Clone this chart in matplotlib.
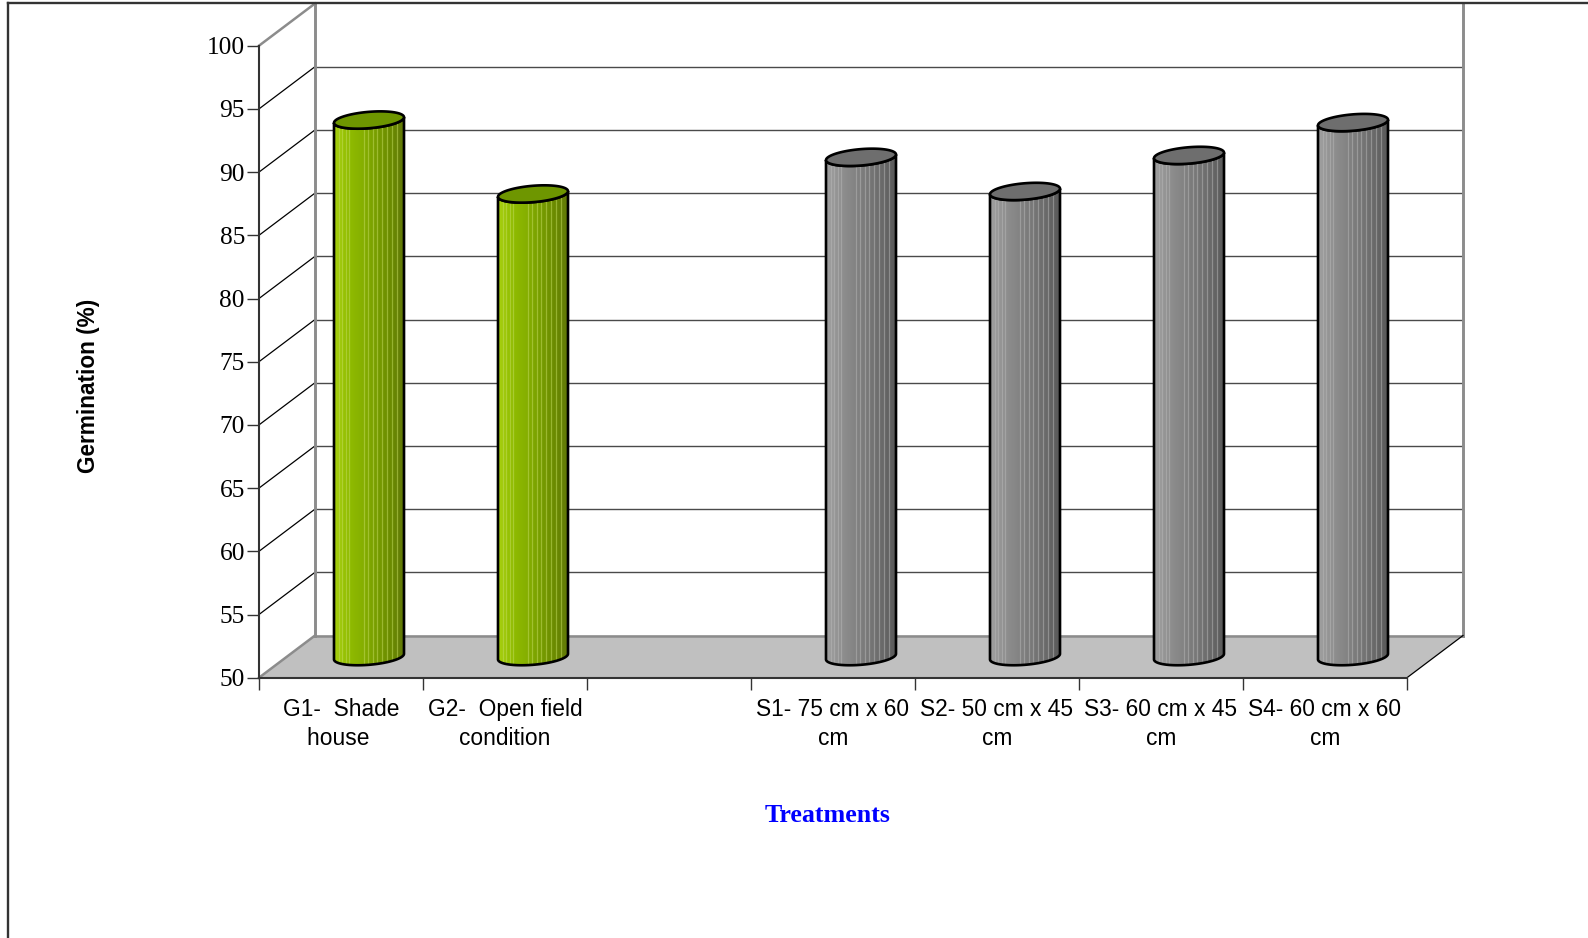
import numpy as np
import matplotlib
matplotlib.use('Agg')
import matplotlib.pyplot as plt
from matplotlib.patches import Polygon, PathPatch
from matplotlib.path import Path
from matplotlib.colors import LinearSegmentedColormap

slots = [0, 1, 3, 4, 5, 6]
values = [92.45, 86.6, 89.5, 86.8, 89.65, 92.25]
bar_kinds = ['green', 'green', 'gray', 'gray', 'gray', 'gray']
labels = ['G1-  Shade\nhouse ', 'G2-  Open field\ncondition', '',
          'S1- 75 cm x 60\ncm', 'S2- 50 cm x 45\ncm',
          'S3- 60 cm x 45\ncm', 'S4- 60 cm x 60\ncm']
y_ticks = list(range(50, 101, 5))

W, H = 1588, 938
LEFT, RIGHT, BOTTOM, TOP = 259, 1407, 677.7, 45.7
PX_X = (RIGHT - LEFT) / 7.0
PX_Y = (BOTTOM - TOP) / 50.0
# oblique depth of the box, in data units
DX = 56 / PX_X
DY = 42.2 / PX_Y
# half width of a cylinder and the shape of its end caps
HALF_W = 35 / PX_X
TILT = 2.8 / PX_Y
CAP = 8.2 / PX_Y

side_colors = {
    'green': ['#a8d010', '#90bc00', '#86b000', '#789e00', '#6c8c00', '#627a08'],
    'gray': ['#a0a0a0', '#909090', '#848484', '#787878', '#6a6a6a', '#5a5a5a'],
}
streak_colors = {'green': '#c4dc60', 'gray': '#b8b8b8'}
top_colors = {'green': '#6e9600', 'gray': '#6e6e6e'}
streak_pos = [0.07, 0.12, 0.17, 0.22, 0.43, 0.49, 0.56, 0.62, 0.68, 0.76, 0.83, 0.90]


def cap_points(cx, cy, t):
    return cx + HALF_W * np.cos(t), cy + TILT * np.cos(t) + CAP * np.sin(t)


def draw_cylinder(ax, slot, value, kind):
    cx = slot + 0.5 + DX / 2
    low = 50 + DY / 2
    high = value + DY / 2

    # side wall: left edge down, front arc, right edge up, front of top cap
    t_low = np.linspace(np.pi, 2 * np.pi, 60)
    t_high = np.linspace(2 * np.pi, np.pi, 60)
    xb, yb = cap_points(cx, low, t_low)
    xt, yt = cap_points(cx, high, t_high)
    verts = np.column_stack([np.r_[xb, xt], np.r_[yb, yt]])
    outline = Path(np.vstack([verts, verts[0]]), closed=True)
    patch = PathPatch(outline, fc='none', ec='black', lw=1.9, zorder=5, clip_on=False)

    cmap = LinearSegmentedColormap.from_list('side', side_colors[kind])
    shade = cmap(np.linspace(0, 1, 70))[np.newaxis, :, :]
    im = ax.imshow(shade, extent=[cx - HALF_W, cx + HALF_W, 45, value + 8],
                   aspect='auto', interpolation='nearest', zorder=4)

    ax.add_patch(patch)
    im.set_clip_path(patch)

    for s in streak_pos:
        line, = ax.plot([cx - HALF_W + s * 2 * HALF_W] * 2, [45, value + 8],
                        color=streak_colors[kind], lw=0.9, alpha=0.5, zorder=4.5)
        line.set_clip_path(patch)

    t = np.linspace(0, 2 * np.pi, 120)
    xc, yc = cap_points(cx, high, t)
    ax.add_patch(Polygon(np.column_stack([xc, yc]), closed=True, fc=top_colors[kind],
                         ec='black', lw=1.9, zorder=6, clip_on=False))


def draw_box(ax):
    for v in y_ticks[1:-1]:
        ax.plot([DX, 7 + DX], [v + DY, v + DY], color='#4a4a4a', lw=1.0, zorder=1, clip_on=False)
        ax.plot([0, DX], [v, v + DY], color='black', lw=0.9, zorder=1, clip_on=False)
    floor = [(0, 50), (DX, 50 + DY), (7 + DX, 50 + DY), (7, 50)]
    ax.add_patch(Polygon(floor, closed=True, fc='#c0c0c0', ec='none', zorder=2, clip_on=False))
    ax.plot([DX, 7 + DX], [50 + DY, 50 + DY], color='#8c8c8c', lw=1.8, zorder=3, clip_on=False)
    ax.plot([DX, DX], [50 + DY, 100 + DY], color='#8c8c8c', lw=2.1, zorder=3, clip_on=False)
    ax.plot([7 + DX, 7 + DX], [50 + DY, 100 + DY], color='#8c8c8c', lw=2.1, zorder=3, clip_on=False)
    ax.plot([0, DX], [50, 50 + DY], color='#8c8c8c', lw=1.8, zorder=3, clip_on=False)
    ax.plot([0, DX], [100, 100 + DY], color='#8c8c8c', lw=1.8, zorder=3, clip_on=False)
    ax.plot([7, 7 + DX], [50, 50 + DY], color='black', lw=0.9, zorder=3, clip_on=False)


plt.rcParams['font.family'] = 'Liberation Sans'
fig = plt.figure(figsize=(W / 100, H / 100), dpi=100)

# page frame around the chart
frame_x = 8 / W
frame_y = 1 - 3 / H
fig.add_artist(plt.Line2D([frame_x, 1], [frame_y, frame_y], color='#333333', lw=1.7))
fig.add_artist(plt.Line2D([frame_x, frame_x], [0, frame_y], color='#333333', lw=1.7))

ax = fig.add_axes([LEFT / W, 1 - BOTTOM / H, (RIGHT - LEFT) / W, (BOTTOM - TOP) / H])
ax.patch.set_visible(False)

draw_box(ax)
for slot, value, kind in zip(slots, values, bar_kinds):
    draw_cylinder(ax, slot, value, kind)

ax.set_xlim(0, 7)
ax.set_ylim(50, 100)
for side in ['top', 'right']:
    ax.spines[side].set_visible(False)
for side in ['left', 'bottom']:
    ax.spines[side].set_color('#333333')
    ax.spines[side].set_linewidth(1.5)
    ax.spines[side].set_zorder(7)

ax.set_yticks(y_ticks)
ax.set_yticklabels([str(v) for v in y_ticks], fontfamily='Liberation Serif', fontsize=18.3)
ax.tick_params(axis='y', length=8.6, width=1.0, color='#333333', pad=1.5)

ax.set_xticks(range(8))
ax.set_xticklabels([])
ax.set_xticks(np.arange(7) + 0.5, minor=True)
ax.set_xticklabels(labels, minor=True, fontsize=16.4, linespacing=1.33)
ax.tick_params(axis='x', which='major', length=8.6, width=1.0, color='#333333')
ax.tick_params(axis='x', which='minor', length=0, pad=14.5)

fig.text(88 / W, 1 - 386 / H, 'Germination (%)', rotation=90, ha='center', va='center',
         fontsize=16.3, fontweight='bold')
fig.text(828 / W, 1 - 815.5 / H, 'Treatments', ha='center', va='center', color='#0000ff',
         fontfamily='Liberation Serif', fontsize=18.7, fontweight='bold')

plt.savefig('out.png', dpi=100)
